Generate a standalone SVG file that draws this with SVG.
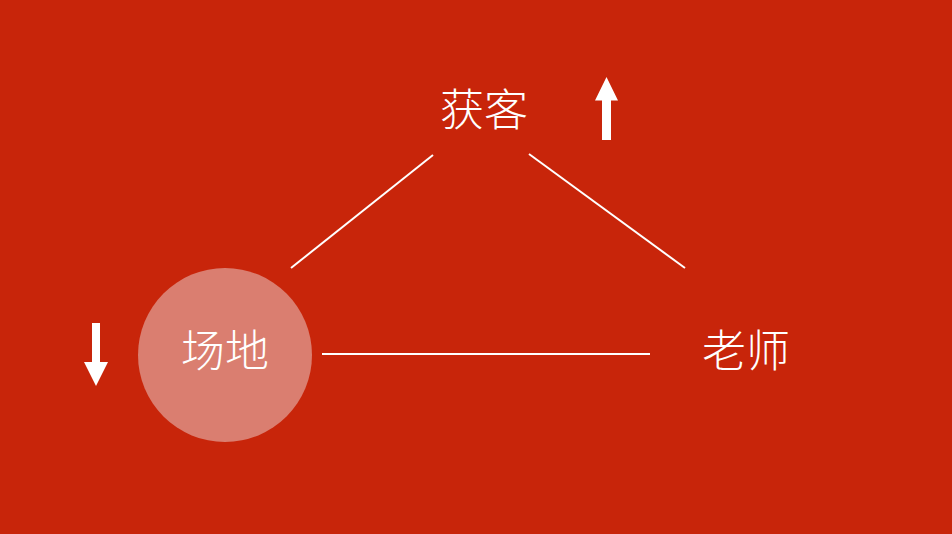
<svg xmlns="http://www.w3.org/2000/svg" width="952" height="534" viewBox="0 0 952 534">
<style>
.lbl{font-family:"Noto Sans CJK SC","Noto Sans",sans-serif;font-size:44px;font-weight:300;fill:#ffffff;text-anchor:middle}
.conn{stroke:#ffffff;stroke-width:2;fill:none}
.arr{fill:#ffffff}
</style>
<rect width="952" height="534" fill="#C8250A"/>
<g id="connectors">
<line class="conn" x1="291" y1="268" x2="433" y2="155"/>
<line class="conn" x1="529" y1="154" x2="685" y2="268"/>
<line class="conn" x1="322" y1="354" x2="650" y2="354"/>
</g>
<g id="node-huoke">
<text class="lbl" x="484" y="126">获客</text>
<polygon class="arr" points="606.5,77 618,100.5 611,100.5 611,140 602,140 602,100.5 595,100.5"/>
</g>
<g id="node-changdi">
<circle cx="225" cy="355" r="87" fill="#DA7E70"/>
<text class="lbl" x="225" y="367">场地</text>
<polygon class="arr" points="92,323 100,323 100,362 108,362 96,386 84,362 92,362"/>
</g>
<g id="node-laoshi">
<text class="lbl" x="746" y="367">老师</text>
</g>
</svg>
